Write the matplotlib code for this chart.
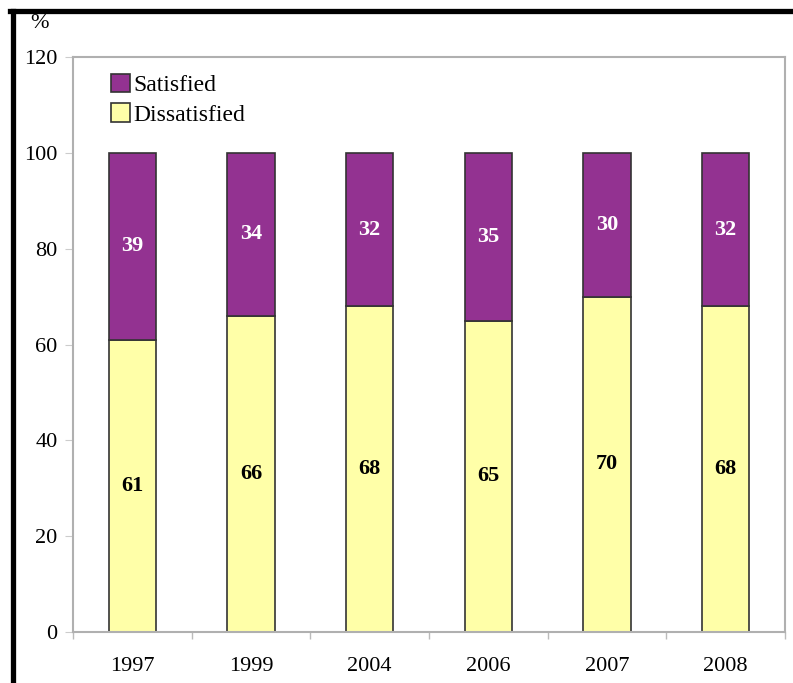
import numpy as np
import matplotlib.pyplot as plt
from matplotlib.lines import Line2D

years = ['1997', '1999', '2004', '2006', '2007', '2008']
dissatisfied = [61, 66, 68, 65, 70, 68]
satisfied = [39, 34, 32, 35, 30, 32]

purple = '#933291'
yellow = '#FFFFA8'

plt.rcParams['font.family'] = ['Liberation Serif', 'DejaVu Serif']

fig = plt.figure(figsize=(7.93, 6.83), dpi=100)
ax = fig.add_axes([0.092, 0.0747, 0.898, 0.8418])

x = np.arange(len(years))
b1 = ax.bar(x, dissatisfied, width=0.40, color=yellow, edgecolor='#333333',
            linewidth=1.2, label='Dissatisfied')
b2 = ax.bar(x, satisfied, width=0.40, bottom=dissatisfied, color=purple,
            edgecolor='#333333', linewidth=1.2, label='Satisfied')

for i in range(len(years)):
    ax.text(x[i], dissatisfied[i] / 2, str(dissatisfied[i]), ha='center', va='center',
            fontsize=16, fontweight='bold', color='black')
    ax.text(x[i], dissatisfied[i] + satisfied[i] / 2, str(satisfied[i]), ha='center',
            va='center', fontsize=16, fontweight='bold', color='white')

ax.set_xlim(-0.5, len(years) - 0.5)
ax.set_ylim(0, 120)
ax.set_yticks(range(0, 121, 20))
ax.set_xticks(x)
ax.set_xticklabels(years)
ax.set_xticks(np.arange(-0.5, len(years), 1), minor=True)
ax.tick_params(axis='x', which='major', length=0, pad=18, labelsize=16)
ax.tick_params(axis='x', which='minor', length=5, color='#bbbbbb', width=1)
ax.tick_params(axis='y', length=6, color='#cccccc', pad=5, labelsize=16)
for s in ax.spines.values():
    s.set_color('#b0b0b0')
    s.set_linewidth(1.5)

handles = [b2, b1]
ax.legend(handles, ['Satisfied', 'Dissatisfied'], loc='upper left',
          bbox_to_anchor=(0.024, 1.008), frameon=False,
          prop={'family': 'Liberation Serif', 'size': 17},
          handlelength=0.8, handleheight=0.8, handletextpad=0.15, labelspacing=0.32)

fig.text(0.05, 0.966, '%', fontsize=16, ha='center', va='center')

# black frame around the picture
fig.add_artist(Line2D([0.012, 1.0], [0.984, 0.984], color='black', lw=3.8,
                      transform=fig.transFigure))
fig.add_artist(Line2D([0.016, 0.016], [0.0, 0.984], color='black', lw=3.8,
                      transform=fig.transFigure))

fig.savefig('out.png', dpi=100)
